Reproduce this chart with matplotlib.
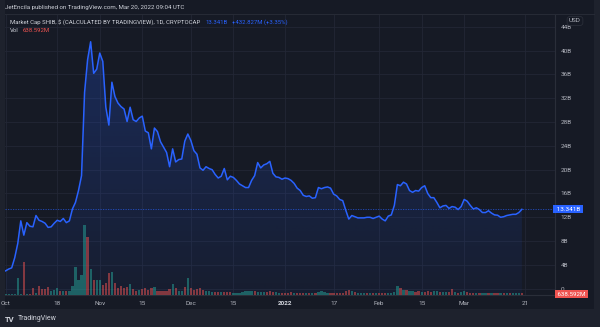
import numpy as np
import pandas as pd
import matplotlib
matplotlib.use("Agg")
import matplotlib.pyplot as plt
import matplotlib.dates as mdates
from matplotlib.patches import Rectangle, Polygon
from matplotlib.colors import to_rgb

plt.rcParams['font.family'] = ['Roboto', 'DejaVu Sans']

# --- data ---
start_date = "2021-10-01"
market_cap_b = [
    3.0, 3.3, 3.5, 5.2, 7.6, 11.4, 9.0, 11.1, 10.5, 10.4,
    12.3, 11.5, 11.3, 11.0, 10.3, 10.4, 11.0, 11.5, 11.3, 11.8,
    11.1, 11.4, 13.4, 14.5, 16.5, 19.0, 33.0, 38.5, 41.5, 36.2,
    36.9, 39.6, 38.2, 30.5, 27.5, 34.7, 32.3, 31.2, 30.6, 30.2,
    28.1, 30.5, 28.4, 28.1, 28.7, 29.0, 26.5, 26.2, 23.5, 27.0,
    26.4, 24.7, 23.8, 22.9, 20.5, 23.5, 21.3, 21.7, 21.8, 24.8,
    26.0, 24.9, 23.2, 22.6, 20.3, 19.9, 20.5, 20.2, 20.0, 19.2,
    18.6, 18.9, 20.2, 18.3, 18.9, 18.7, 18.2, 17.6, 17.3, 17.0,
    17.0, 18.2, 19.0, 21.2, 20.3, 20.8, 21.0, 21.4, 19.4, 18.8,
    18.7, 18.4, 18.6, 18.5, 18.2, 17.7, 16.9, 16.5, 15.7, 15.5,
    15.6, 15.2, 15.3, 17.0, 16.8, 17.0, 17.1, 16.9, 15.9, 15.6,
    15.0, 14.8, 13.2, 11.7, 12.3, 12.1, 11.9, 11.9, 11.9, 12.0,
    12.0, 11.8, 12.0, 12.2, 11.7, 11.4, 12.2, 12.4, 14.0, 17.5,
    17.3, 17.9, 17.6, 16.5, 16.2, 16.5, 16.4, 17.0, 17.3, 16.0,
    15.3, 15.3, 14.5, 13.6, 13.9, 14.0, 13.5, 13.8, 13.7, 13.3,
    13.8, 15.0, 14.7, 14.0, 13.4, 13.6, 13.3, 12.8, 12.8, 13.1,
    12.7, 12.4, 12.35, 12.0, 12.1, 12.3, 12.4, 12.5, 12.5, 12.8,
    13.34,
]
volume_b = [
    0.3, 0.3, 0.3, 0.3, 5.3, 0.3, 10.6, 0.3, 0.3, 2.1,
    0.5, 2.9, 1.9, 1.8, 2.7, 1.4, 1.6, 2.3, 1.3, 1.3,
    1.3, 1.3, 2.9, 8.9, 4.8, 6.4, 22.4, 18.6, 8.2, 4.8,
    4.8, 4.8, 3.2, 3.9, 6.9, 7.3, 3.9, 2.1, 2.9, 2.1,
    2.7, 3.4, 1.8, 1.3, 1.6, 1.8, 2.3, 1.6, 2.1, 2.7,
    1.4, 1.3, 1.3, 1.3, 1.9, 3.5, 2.1, 1.3, 1.3, 2.5,
    5.5, 2.1, 1.6, 1.8, 2.3, 1.6, 1.4, 1.4, 1.1, 1.0,
    1.0, 1.1, 1.0, 1.0, 1.0, 0.8, 0.8, 0.8, 1.1, 1.3,
    1.4, 1.4, 1.3, 1.0, 1.0, 1.0, 1.0, 1.3, 1.0, 1.0,
    0.8, 0.8, 0.8, 0.8, 1.0, 0.8, 0.8, 0.6, 0.8, 0.6,
    0.8, 0.6, 0.8, 1.1, 1.3, 1.0, 0.6, 0.8, 0.8, 0.6,
    0.6, 0.8, 1.4, 1.6, 1.4, 1.0, 0.8, 0.8, 0.6, 0.6,
    0.6, 0.6, 0.6, 0.6, 0.6, 0.6, 0.6, 0.8, 1.1, 2.9,
    2.1, 1.6, 1.6, 1.4, 1.4, 1.1, 1.3, 1.0, 1.1, 1.3,
    1.0, 1.3, 1.3, 1.0, 1.0, 1.0, 1.0, 1.9, 1.0, 0.8,
    1.0, 1.3, 1.0, 0.8, 0.8, 0.8, 0.8, 0.6, 0.6, 0.6,
    0.6, 0.6, 0.6, 0.6, 0.6, 0.6, 0.6, 0.6, 0.6, 0.5,
    0.64,
]
volume_dir = ("uuuuuududd" "udddduuudu" "duuuuuudud" "uudddudddd"
              "dudduddddu" "ddddduduud" "uddddduuud" "duddduuuuu"
              "uuduuudddu" "uddddudddu" "duduuuuddd" "dddduduuud"
              "ududdduuuu" "duduuddudd" "duuduuddud" "uuddduduud"
              "uddududuuu" "d")
date_ticks = ["2021-10-01", "2021-10-18", "2021-11-01", "2021-11-15",
              "2021-12-01", "2021-12-15", "2022-01-01", "2022-01-17",
              "2022-02-01", "2022-02-15", "2022-03-01", "2022-03-21"]
date_labels = ["Oct", "18", "Nov", "15", "Dec", "15", "2022", "17",
               "Feb", "15", "Mar", "21"]
price_ticks = [0, 4, 8, 12, 16, 20, 24, 28, 32, 36, 40, 44]
price_labels = ["0"] + [f"{v}B" for v in price_ticks[1:]]
last_value = "13.341B"
last_change = "+432.827M (+3.35%)"
last_volume = "638.592M"

# --- style ---
BG = "#161a25"
FRAME = "#1e222d"
GRID = "#232735"
TXT = "#b2b5be"
BLUE = "#2962ff"
UP = "#26a69a"
DOWN = "#ef5350"

W, H = 600, 327
fig = plt.figure(figsize=(W / 100, H / 100), dpi=100, facecolor=FRAME)

def fx(px):
    return px / W

def fy(py):
    return 1 - py / H

# panel background, behind the axes
fig.patches.append(Rectangle((fx(5), fy(309)), fx(589), 309 / H,
                             transform=fig.transFigure, facecolor=BG,
                             edgecolor="none", zorder=-5))

ax = fig.add_axes([fx(5), fy(295), fx(550), 280 / H])
ax.set_facecolor(BG)
vax = ax.twinx()

dates = pd.date_range(start_date, periods=len(market_cap_b), freq="D")
xnum = mdates.date2num(dates)
cap = np.array(market_cap_b)
x0 = xnum[0] - 0.2
x1 = xnum[0] + 180.9
ymin, ymax = -1.06, 46.0

# gradient fill under the line
poly = Polygon(np.column_stack([np.r_[xnum[0], xnum, xnum[-1]],
                                np.r_[ymin, cap, ymin]]),
               closed=True, facecolor="none", edgecolor="none")
ax.add_patch(poly)
grad = np.zeros((256, 1, 4))
grad[:, :, :3] = to_rgb(BLUE)
grad[:, 0, 3] = np.linspace(0.24, 0.05, 256)
im = ax.imshow(grad, aspect="auto", origin="upper", zorder=1,
               extent=[xnum[0], xnum[-1], ymin, cap.max()])
im.set_clip_path(poly)

ax.plot(xnum, cap, color=BLUE, lw=1.1, zorder=3)
ax.axhline(cap[-1], color=BLUE, lw=0.6, ls=(0, (1.5, 1.5)), alpha=0.7, zorder=2)

ax.set_xlim(x0, x1)
ax.set_ylim(ymin, ymax)

tick_nums = mdates.date2num(pd.to_datetime(date_ticks))
ax.set_xticks(tick_nums)
ax.set_xticklabels(date_labels)
ax.set_yticks(price_ticks)
ax.set_yticklabels(price_labels)
ax.yaxis.tick_right()
ax.tick_params(axis="both", length=0, colors=TXT, labelsize=4.6)
ax.tick_params(axis="y", pad=4)
ax.tick_params(axis="x", pad=4)
for lbl in ax.get_xticklabels():
    if lbl.get_text() == "2022":
        lbl.set_fontweight("bold")
        lbl.set_color("#d1d4dc")
ax.grid(True, color=GRID, lw=0.6)
ax.set_axisbelow(True)
for side in ["top", "left"]:
    ax.spines[side].set_visible(False)
for side in ["right", "bottom"]:
    ax.spines[side].set_color("#2a2e39")
    ax.spines[side].set_linewidth(0.8)

# volume overlay
vax.patch.set_visible(False)
vcolors = [UP if d == "u" else DOWN for d in volume_dir]
vax.bar(xnum, volume_b, width=0.75, color=vcolors, alpha=0.5, linewidth=0)
vax.set_ylim(0, 89.6)
vax.set_yticks([])
for side in vax.spines:
    vax.spines[side].set_visible(False)
vax.set_xlim(x0, x1)

# right-side value tags
ax.text(1.0, cap[-1], " " + last_value + " ", transform=ax.get_yaxis_transform(),
        ha="left", va="center", fontsize=4.6, color="white", zorder=10, clip_on=False,
        bbox=dict(boxstyle="square,pad=0.25", facecolor=BLUE, edgecolor="none"))
fig.text(fx(556), fy(294), " " + last_volume + " ", ha="left", va="center",
         fontsize=4.4, color="white",
         bbox=dict(boxstyle="square,pad=0.2", facecolor=DOWN, edgecolor="none"))
fig.text(fx(575), fy(21), "USD", ha="center", va="center", fontsize=4.6, color=TXT,
         bbox=dict(boxstyle="round,pad=0.3,rounding_size=0.4", facecolor=BG,
                   edgecolor="#2a2e39", lw=0.6))

# header
fig.text(fx(5), fy(7), "JetEncila published on TradingView.com, Mar 20, 2022 09:04 UTC",
         ha="left", va="center", fontsize=4.4, color="#d1d4dc")
fig.lines.append(plt.Line2D([fx(5), fx(594)], [fy(14), fy(14)], transform=fig.transFigure,
                            color="#2a2e39", lw=0.6))

renderer = fig.canvas.get_renderer()
t1 = fig.text(fx(10), fy(22), "Market Cap SHIB, $ (CALCULATED BY TRADINGVIEW), 1D, CRYPTOCAP",
              ha="left", va="center", fontsize=4.3, color="#d1d4dc")
bb = t1.get_window_extent(renderer)
t2 = fig.text((bb.x1 + 5) / W, fy(22), last_value, ha="left", va="center",
              fontsize=4.3, color=BLUE)
bb2 = t2.get_window_extent(renderer)
fig.text((bb2.x1 + 5) / W, fy(22), last_change, ha="left", va="center",
         fontsize=4.3, color=BLUE)
t3 = fig.text(fx(10), fy(30), "Vol", ha="left", va="center", fontsize=4.3, color="#d1d4dc")
bb3 = t3.get_window_extent(renderer)
fig.text((bb3.x1 + 4) / W, fy(30), last_volume, ha="left", va="center",
         fontsize=4.3, color=DOWN)

# footer
fig.text(fx(5), fy(319), "TV", ha="left", va="center", fontsize=5.5,
         fontweight="bold", color="#d1d4dc")
fig.text(fx(18), fy(319), "TradingView", ha="left", va="center", fontsize=5,
         color="#d1d4dc")

fig.savefig("out.png", dpi=100, facecolor=FRAME)
